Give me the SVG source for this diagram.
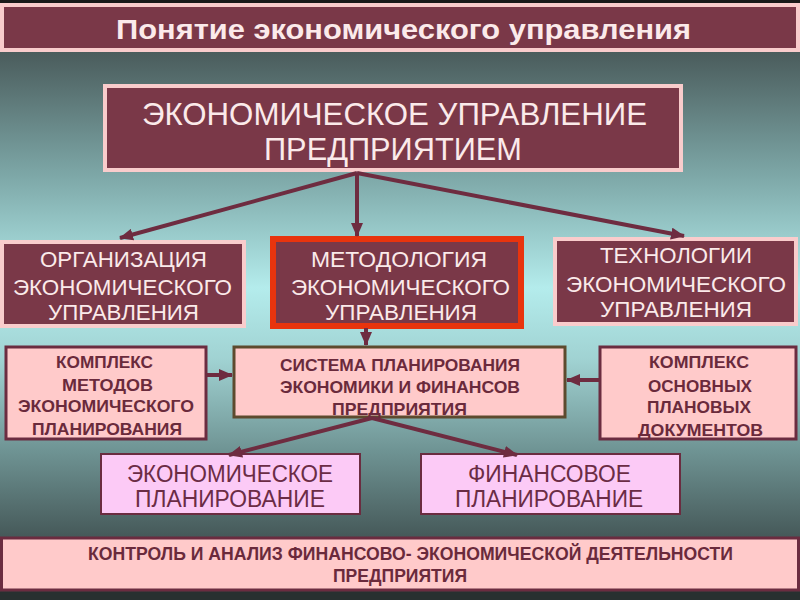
<svg xmlns="http://www.w3.org/2000/svg" width="800" height="600" viewBox="0 0 800 600">
<style>
.mar{fill:#7a3848;stroke:#f9cccc;stroke-width:4}
.pk{fill:#ffcaca;stroke:#6b2c40;stroke-width:3}
.mg{fill:#fccaf6;stroke:#6b2c40;stroke-width:2}
.t{font-family:"Liberation Sans",Arial,sans-serif;text-anchor:middle}
.w{fill:#fbeaea}
.d{fill:#6a2a3c;font-weight:bold}
.r{fill:#6b2c45}
.c{stroke:#6e2c40;stroke-width:4;fill:none;marker-end:url(#ah)}
</style>
<defs>
<linearGradient id="bg" x1="0" y1="0" x2="0" y2="1">
<stop offset="0" stop-color="#3a4646"/>
<stop offset="0.09" stop-color="#4b5d5d"/>
<stop offset="0.3" stop-color="#7faaaa"/>
<stop offset="0.48" stop-color="#b4ecec"/>
<stop offset="0.6" stop-color="#a0d2d2"/>
<stop offset="0.75" stop-color="#6f9494"/>
<stop offset="0.88" stop-color="#4a5f5f"/>
<stop offset="1" stop-color="#263030"/>
</linearGradient>
<marker id="ah" markerUnits="userSpaceOnUse" markerWidth="14" markerHeight="12" refX="13" refY="6" orient="auto">
<path d="M0,0 L14,6 L0,12 Z" fill="#6e2c40"/>
</marker>
</defs>
<rect x="0" y="0" width="800" height="600" fill="url(#bg)"/>
<rect x="0" y="0" width="800" height="3" fill="#1a1a1a"/>

<g id="title">
<rect class="mar" x="2" y="5" width="796" height="45"/>
<text class="t w" x="403.5" y="39" font-size="28" font-weight="bold" textLength="575" lengthAdjust="spacingAndGlyphs">Понятие экономического управления</text>
</g>

<g id="main">
<rect class="mar" x="105" y="86" width="576" height="84"/>
<text class="t w" x="394.5" y="125" font-size="31" textLength="505" lengthAdjust="spacingAndGlyphs">ЭКОНОМИЧЕСКОЕ УПРАВЛЕНИЕ</text>
<text class="t w" x="393" y="160" font-size="31" textLength="258" lengthAdjust="spacingAndGlyphs">ПРЕДПРИЯТИЕМ</text>
</g>

<g id="org">
<rect class="mar" x="2" y="242" width="242" height="84"/>
<text class="t w" x="123.5" y="267" font-size="22" textLength="167" lengthAdjust="spacingAndGlyphs">ОРГАНИЗАЦИЯ</text>
<text class="t w" x="122.5" y="295" font-size="22" textLength="219" lengthAdjust="spacingAndGlyphs">ЭКОНОМИЧЕСКОГО</text>
<text class="t w" x="123.5" y="320" font-size="22" textLength="151" lengthAdjust="spacingAndGlyphs">УПРАВЛЕНИЯ</text>
</g>

<g id="meth">
<rect x="273" y="239" width="248" height="87" fill="#7a3848" stroke="#e8340e" stroke-width="6"/>
<text class="t w" x="399" y="267" font-size="22" textLength="176" lengthAdjust="spacingAndGlyphs">МЕТОДОЛОГИЯ</text>
<text class="t w" x="400.5" y="295" font-size="22" textLength="219" lengthAdjust="spacingAndGlyphs">ЭКОНОМИЧЕСКОГО</text>
<text class="t w" x="401" y="320" font-size="22" textLength="152" lengthAdjust="spacingAndGlyphs">УПРАВЛЕНИЯ</text>
</g>

<g id="tech">
<rect class="mar" x="555" y="239" width="241" height="85"/>
<text class="t w" x="676" y="263" font-size="22" textLength="152" lengthAdjust="spacingAndGlyphs">ТЕХНОЛОГИИ</text>
<text class="t w" x="676" y="292" font-size="22" textLength="220" lengthAdjust="spacingAndGlyphs">ЭКОНОМИЧЕСКОГО</text>
<text class="t w" x="676" y="317" font-size="22" textLength="152" lengthAdjust="spacingAndGlyphs">УПРАВЛЕНИЯ</text>
</g>

<g id="methods">
<rect class="pk" x="6" y="347" width="200" height="92"/>
<text class="t d" x="104.5" y="368" font-size="17" textLength="97" lengthAdjust="spacingAndGlyphs">КОМПЛЕКС</text>
<text class="t d" x="107.5" y="391" font-size="17" textLength="91" lengthAdjust="spacingAndGlyphs">МЕТОДОВ</text>
<text class="t d" x="106" y="412" font-size="17" textLength="176" lengthAdjust="spacingAndGlyphs">ЭКОНОМИЧЕСКОГО</text>
<text class="t d" x="107" y="435" font-size="17" textLength="150" lengthAdjust="spacingAndGlyphs">ПЛАНИРОВАНИЯ</text>
</g>

<g id="system">
<rect x="234" y="347" width="331" height="70" fill="#ffcaca" stroke="#5d4a2e" stroke-width="3"/>
<text class="t d" x="400" y="371" font-size="17" textLength="240" lengthAdjust="spacingAndGlyphs">СИСТЕМА ПЛАНИРОВАНИЯ</text>
<text class="t d" x="400" y="393" font-size="17" textLength="240" lengthAdjust="spacingAndGlyphs">ЭКОНОМИКИ И ФИНАНСОВ</text>
<text class="t d" x="399.5" y="415" font-size="17" textLength="135" lengthAdjust="spacingAndGlyphs">ПРЕДПРИЯТИЯ</text>
</g>

<g id="docs">
<rect class="pk" x="600" y="347" width="196" height="92"/>
<text class="t d" x="699" y="368" font-size="17" textLength="100" lengthAdjust="spacingAndGlyphs">КОМПЛЕКС</text>
<text class="t d" x="700" y="392" font-size="17" textLength="104" lengthAdjust="spacingAndGlyphs">ОСНОВНЫХ</text>
<text class="t d" x="699" y="413" font-size="17" textLength="104" lengthAdjust="spacingAndGlyphs">ПЛАНОВЫХ</text>
<text class="t d" x="700.5" y="436" font-size="17" textLength="125" lengthAdjust="spacingAndGlyphs">ДОКУМЕНТОВ</text>
</g>

<g id="econplan">
<rect class="mg" x="101" y="454" width="259" height="60"/>
<text class="t r" x="230" y="482" font-size="23" textLength="206" lengthAdjust="spacingAndGlyphs">ЭКОНОМИЧЕСКОЕ</text>
<text class="t r" x="230" y="507" font-size="23" textLength="190" lengthAdjust="spacingAndGlyphs">ПЛАНИРОВАНИЕ</text>
</g>

<g id="finplan">
<rect class="mg" x="421" y="454" width="259" height="60"/>
<text class="t r" x="549.5" y="482" font-size="23" textLength="163" lengthAdjust="spacingAndGlyphs">ФИНАНСОВОЕ</text>
<text class="t r" x="549" y="507" font-size="23" textLength="188" lengthAdjust="spacingAndGlyphs">ПЛАНИРОВАНИЕ</text>
</g>

<g id="control">
<rect class="pk" x="1.5" y="538" width="797" height="52"/>
<text class="t d" x="410.5" y="560" font-size="18" textLength="645" lengthAdjust="spacingAndGlyphs">КОНТРОЛЬ И АНАЛИЗ ФИНАНСОВО- ЭКОНОМИЧЕСКОЙ ДЕЯТЕЛЬНОСТИ</text>
<text class="t d" x="400" y="582" font-size="18" textLength="134" lengthAdjust="spacingAndGlyphs">ПРЕДПРИЯТИЯ</text>
</g>
<rect x="0" y="592" width="800" height="8" fill="#283030"/>

<g id="connectors">
<path class="c" d="M357,173 L120,238"/>
<path class="c" d="M357,173 L357,236"/>
<path class="c" d="M357,173 L684,236"/>
<path class="c" d="M366,328 L366,345"/>
<path class="c" d="M207,375 L232,375"/>
<path class="c" d="M599,380 L567,380"/>
<path class="c" d="M372,418 L229,455"/>
<path class="c" d="M372,418 L517,455"/>
</g>
</svg>
